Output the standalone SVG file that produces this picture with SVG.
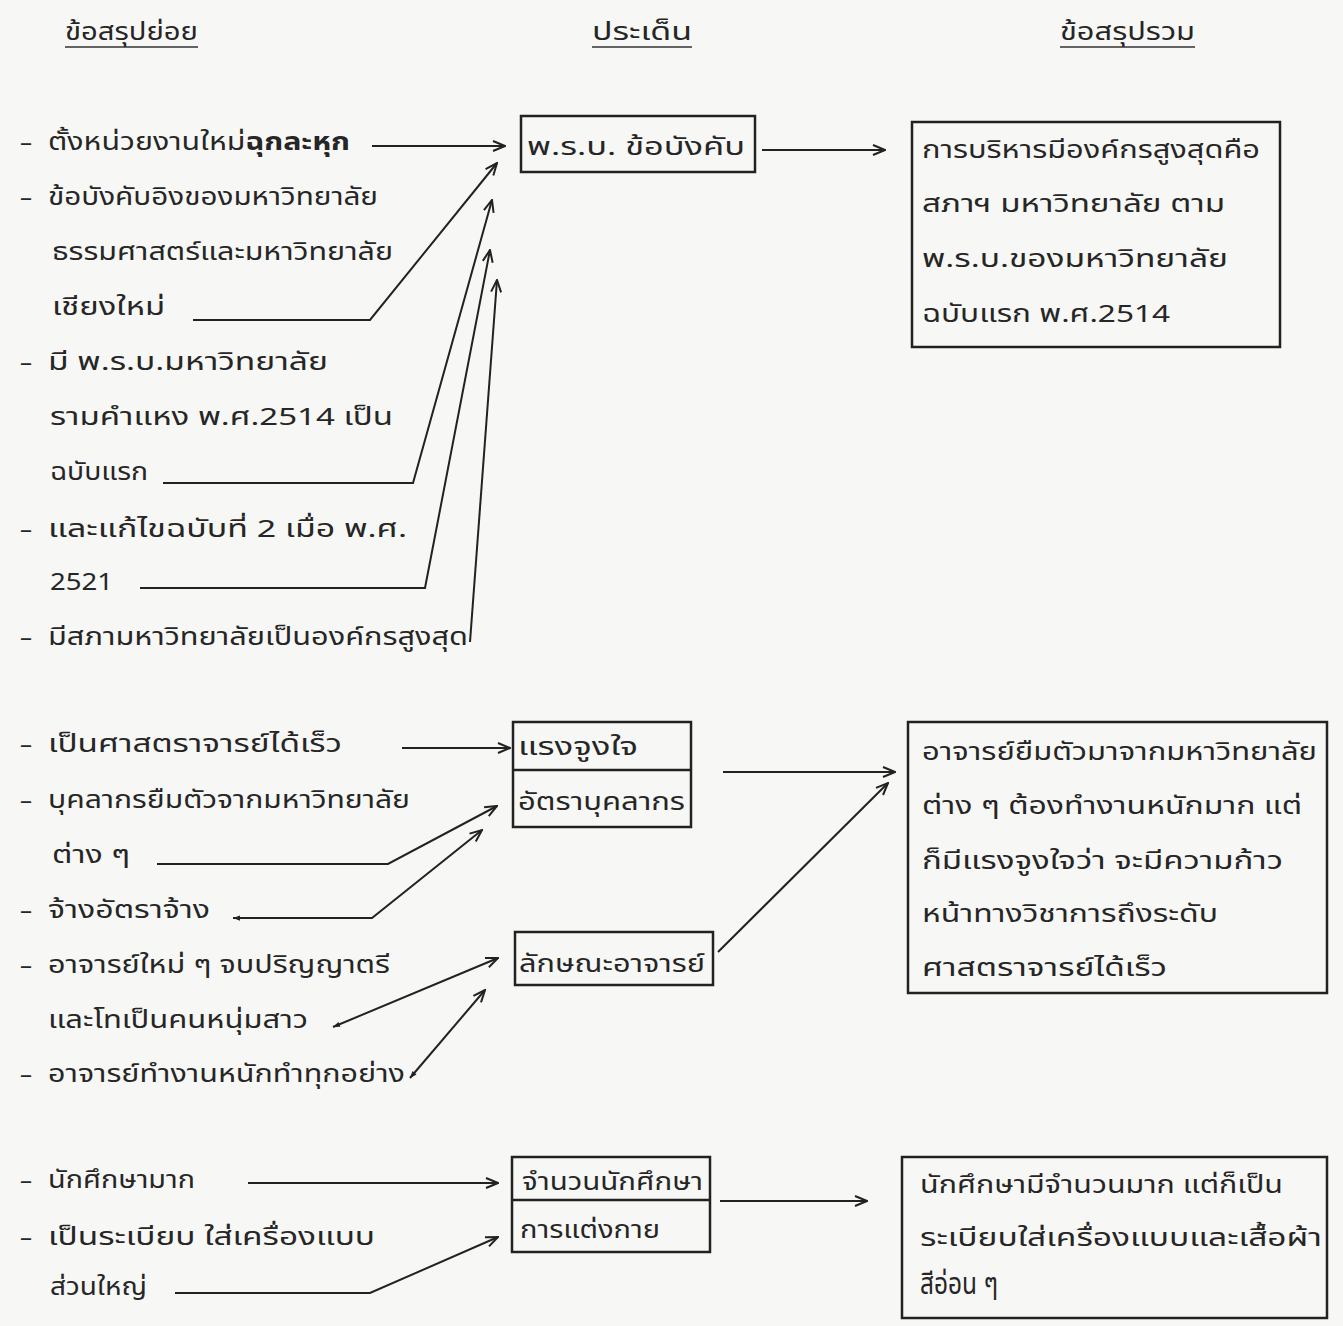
<svg xmlns="http://www.w3.org/2000/svg" width="1343" height="1326" viewBox="0 0 1343 1326">
<style>
text{font-family:"Noto Sans Thai","Noto Serif Thai","TlwgTypewriter","Loma","Garuda","Norasi","DejaVu Sans",sans-serif;font-size:24px;fill:#262626}
.b{fill:none;stroke:#222;stroke-width:2.5}
.c{fill:none;stroke:#222;stroke-width:2}
.u{stroke:#333;stroke-width:1.5}
</style>
<defs>
<marker id="ah" viewBox="0 0 14 12" refX="13" refY="6" markerWidth="14" markerHeight="12" orient="auto" markerUnits="userSpaceOnUse"><path d="M1,1 L13,6 L1,11" fill="none" stroke="#222" stroke-width="2"/></marker>
<marker id="tl" viewBox="0 0 10 8" refX="1" refY="4" markerWidth="9" markerHeight="7" orient="auto" markerUnits="userSpaceOnUse"><path d="M9,1 L1,4 L9,7 Z" fill="#222"/></marker>
</defs>
<rect width="1343" height="1326" fill="#f7f7f5"/>
<g id="headers">
<text x="65" y="40" textLength="133" lengthAdjust="spacingAndGlyphs">ข้อสรุปย่อย</text>
<line class="u" x1="65" y1="47" x2="198" y2="47"/>
<text x="592" y="40" textLength="100" lengthAdjust="spacingAndGlyphs">ประเด็น</text>
<line class="u" x1="592" y1="47" x2="692" y2="47"/>
<text x="1060" y="40" textLength="135" lengthAdjust="spacingAndGlyphs">ข้อสรุปรวม</text>
<line class="u" x1="1060" y1="47" x2="1195" y2="47"/>
</g>
<g id="left1">
<text x="20" y="150">–</text><text x="48" y="150" textLength="302" lengthAdjust="spacingAndGlyphs">ตั้งหน่วยงานใหม่<tspan font-weight="bold">ฉุกละหุก</tspan></text>
<text x="20" y="205">–</text><text x="48" y="205" textLength="330" lengthAdjust="spacingAndGlyphs">ข้อบังคับอิงของมหาวิทยาลัย</text>
<text x="52" y="260" textLength="341" lengthAdjust="spacingAndGlyphs">ธรรมศาสตร์และมหาวิทยาลัย</text>
<text x="52" y="315" textLength="113" lengthAdjust="spacingAndGlyphs">เชียงใหม่</text>
<text x="20" y="370">–</text><text x="48" y="370" textLength="280" lengthAdjust="spacingAndGlyphs">มี พ.ร.บ.มหาวิทยาลัย</text>
<text x="50" y="425" textLength="343" lengthAdjust="spacingAndGlyphs">รามคำแหง พ.ศ.2514 เป็น</text>
<text x="50" y="480" textLength="98" lengthAdjust="spacingAndGlyphs">ฉบับแรก</text>
<text x="20" y="537">–</text><text x="48" y="537" textLength="359" lengthAdjust="spacingAndGlyphs">และแก้ไขฉบับที่ 2 เมื่อ พ.ศ.</text>
<text x="50" y="590" textLength="63" lengthAdjust="spacingAndGlyphs">2521</text>
<text x="20" y="645">–</text><text x="48" y="645" textLength="420" lengthAdjust="spacingAndGlyphs">มีสภามหาวิทยาลัยเป็นองค์กรสูงสุด</text>
</g>
<g id="left2">
<text x="20" y="752">–</text><text x="48" y="752" textLength="294" lengthAdjust="spacingAndGlyphs">เป็นศาสตราจารย์ได้เร็ว</text>
<text x="20" y="808">–</text><text x="48" y="808" textLength="362" lengthAdjust="spacingAndGlyphs">บุคลากรยืมตัวจากมหาวิทยาลัย</text>
<text x="52" y="863" textLength="78" lengthAdjust="spacingAndGlyphs">ต่าง ๆ</text>
<text x="20" y="918">–</text><text x="48" y="918" textLength="162" lengthAdjust="spacingAndGlyphs">จ้างอัตราจ้าง</text>
<text x="20" y="973">–</text><text x="48" y="973" textLength="342" lengthAdjust="spacingAndGlyphs">อาจารย์ใหม่ ๆ จบปริญญาตรี</text>
<text x="48" y="1028" textLength="260" lengthAdjust="spacingAndGlyphs">และโทเป็นคนหนุ่มสาว</text>
<text x="20" y="1082">–</text><text x="48" y="1082" textLength="357" lengthAdjust="spacingAndGlyphs">อาจารย์ทำงานหนักทำทุกอย่าง</text>
</g>
<g id="left3">
<text x="20" y="1188">–</text><text x="48" y="1188" textLength="147" lengthAdjust="spacingAndGlyphs">นักศึกษามาก</text>
<text x="20" y="1245">–</text><text x="48" y="1245" textLength="327" lengthAdjust="spacingAndGlyphs">เป็นระเบียบ ใส่เครื่องแบบ</text>
<text x="50" y="1295" textLength="97" lengthAdjust="spacingAndGlyphs">ส่วนใหญ่</text>
</g>
<g id="issue1">
<rect class="b" x="521" y="116" width="234" height="56"/>
<text x="527" y="155" textLength="218" lengthAdjust="spacingAndGlyphs">พ.ร.บ. ข้อบังคับ</text>
</g>
<g id="issue2">
<rect class="b" x="513" y="722" width="178" height="105"/>
<line class="b" x1="513" y1="770" x2="691" y2="770"/>
<text x="518" y="755" textLength="120" lengthAdjust="spacingAndGlyphs">แรงจูงใจ</text>
<text x="518" y="810" textLength="167" lengthAdjust="spacingAndGlyphs">อัตราบุคลากร</text>
</g>
<g id="issue3">
<rect class="b" x="515" y="932" width="198" height="53"/>
<text x="519" y="972" textLength="186" lengthAdjust="spacingAndGlyphs">ลักษณะอาจารย์</text>
</g>
<g id="issue4">
<rect class="b" x="512" y="1157" width="198" height="95"/>
<line class="b" x1="512" y1="1200" x2="710" y2="1200"/>
<text x="522" y="1190" textLength="181" lengthAdjust="spacingAndGlyphs">จำนวนนักศึกษา</text>
<text x="520" y="1238" textLength="140" lengthAdjust="spacingAndGlyphs">การแต่งกาย</text>
</g>
<g id="result1">
<rect class="b" x="912" y="122" width="368" height="225"/>
<text x="922" y="158" textLength="338" lengthAdjust="spacingAndGlyphs">การบริหารมีองค์กรสูงสุดคือ</text>
<text x="922" y="212" textLength="303" lengthAdjust="spacingAndGlyphs">สภาฯ มหาวิทยาลัย ตาม</text>
<text x="922" y="267" textLength="306" lengthAdjust="spacingAndGlyphs">พ.ร.บ.ของมหาวิทยาลัย</text>
<text x="922" y="322" textLength="248" lengthAdjust="spacingAndGlyphs">ฉบับแรก พ.ศ.2514</text>
</g>
<g id="result2">
<rect class="b" x="908" y="722" width="419" height="271"/>
<text x="922" y="760" textLength="395" lengthAdjust="spacingAndGlyphs">อาจารย์ยืมตัวมาจากมหาวิทยาลัย</text>
<text x="922" y="814" textLength="380" lengthAdjust="spacingAndGlyphs">ต่าง ๆ ต้องทำงานหนักมาก แต่</text>
<text x="922" y="869" textLength="361" lengthAdjust="spacingAndGlyphs">ก็มีแรงจูงใจว่า จะมีความก้าว</text>
<text x="922" y="922" textLength="296" lengthAdjust="spacingAndGlyphs">หน้าทางวิชาการถึงระดับ</text>
<text x="922" y="976" textLength="245" lengthAdjust="spacingAndGlyphs">ศาสตราจารย์ได้เร็ว</text>
</g>
<g id="result3">
<rect class="b" x="902" y="1157" width="425" height="161"/>
<text x="920" y="1193" textLength="363" lengthAdjust="spacingAndGlyphs">นักศึกษามีจำนวนมาก แต่ก็เป็น</text>
<text x="920" y="1246" textLength="402" lengthAdjust="spacingAndGlyphs">ระเบียบใส่เครื่องแบบและเสื้อผ้า</text>
<text x="920" y="1294" style="font-size:30px" textLength="78" lengthAdjust="spacingAndGlyphs">สีอ่อน ๆ</text>
</g>
<g id="connectors">
<polyline class="c" points="372,146 505,146" marker-end="url(#ah)"/>
<polyline class="c" points="193,320 370,320 497,163" marker-end="url(#ah)"/>
<polyline class="c" points="163,483 413,483 492,200" marker-end="url(#ah)"/>
<polyline class="c" points="140,588 425,588 490,250" marker-end="url(#ah)"/>
<polyline class="c" points="470,642 497,280" marker-end="url(#ah)"/>
<polyline class="c" points="762,150 885,150" marker-end="url(#ah)"/>
<polyline class="c" points="402,748 510,748" marker-end="url(#ah)"/>
<polyline class="c" points="157,864 388,864 497,806" marker-end="url(#ah)"/>
<polyline class="c" points="233,918 372,918 482,830" marker-start="url(#tl)" marker-end="url(#ah)"/>
<polyline class="c" points="333,1027 498,958" marker-start="url(#tl)" marker-end="url(#ah)"/>
<polyline class="c" points="410,1078 485,990" marker-start="url(#tl)" marker-end="url(#ah)"/>
<polyline class="c" points="723,772 895,772" marker-end="url(#ah)"/>
<polyline class="c" points="718,952 888,783" marker-end="url(#ah)"/>
<polyline class="c" points="248,1183 498,1183" marker-end="url(#ah)"/>
<polyline class="c" points="175,1293 370,1293 498,1237" marker-end="url(#ah)"/>
<polyline class="c" points="720,1201 867,1201" marker-end="url(#ah)"/>
</g>
</svg>
